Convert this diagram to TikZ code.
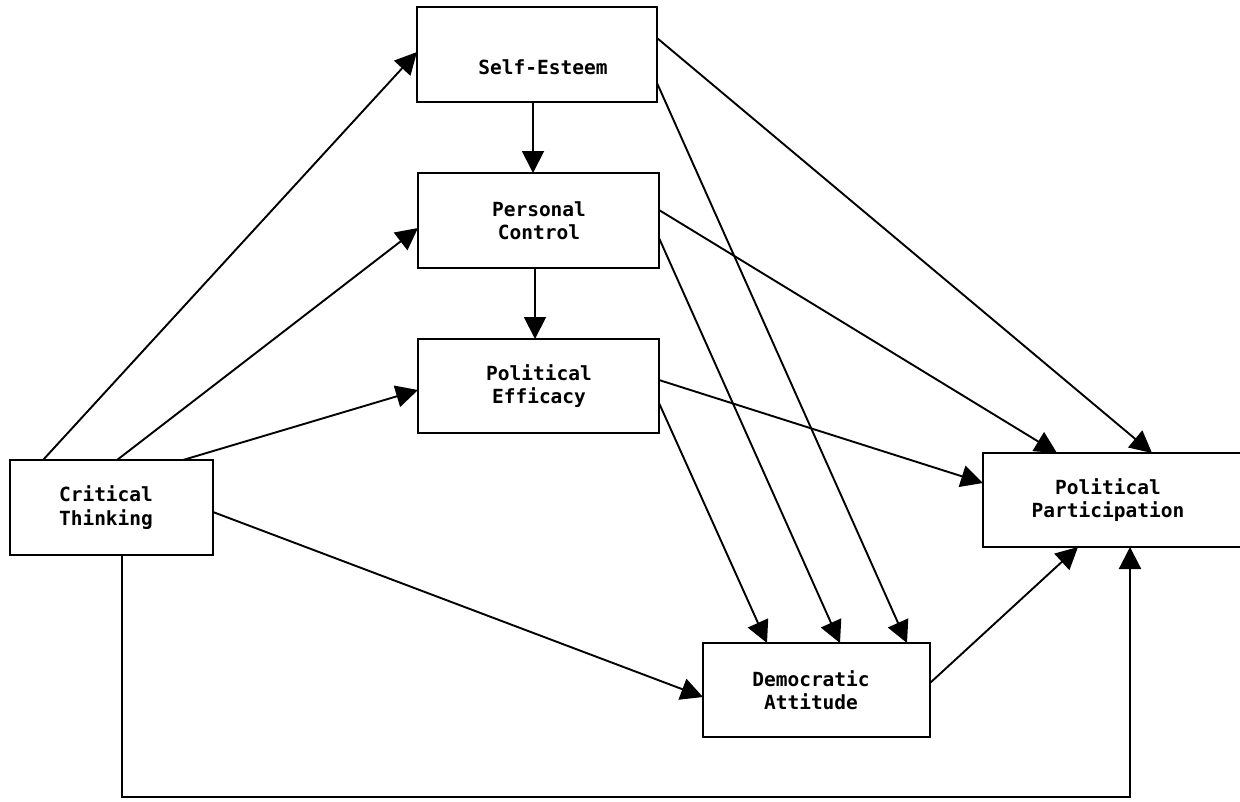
\documentclass[tikz,border=0pt]{standalone}
\usepackage{fontspec}
\newfontfamily\boxfont{DejaVu Sans Mono}
\usetikzlibrary{arrows.meta}
\begin{document}
\begin{tikzpicture}[x=1pt,y=-1pt,
  box/.style={draw, line width=2.2pt, inner sep=0pt, outer sep=0pt},
  lbl/.style={inner sep=0pt, align=center, font={\boxfont\bfseries\fontsize{19.5pt}{23.5pt}\selectfont}},
  link/.style={line width=1.9pt, -{Triangle[length=22pt,width=22pt]}},
  plain/.style={line width=2pt}
]
\clip (0,0) rectangle (1240,801);
\fill[white] (0,0) rectangle (1240,801);
% boxes
\node[box, minimum width=240pt, minimum height=95pt] (SE) at (537,54.5) {};
\node[box, minimum width=241pt, minimum height=95pt] (PC) at (538.5,220.5) {};
\node[box, minimum width=241pt, minimum height=94pt] (PE) at (538.5,386) {};
\node[box, minimum width=203pt, minimum height=95pt] (CT) at (111.5,507.5) {};
\node[box, minimum width=267pt, minimum height=94pt] (PP) at (1116.5,500) {};
\node[box, minimum width=227pt, minimum height=94pt] (DA) at (816.5,690) {};
% labels
\node[lbl] (SEt) at (543,67) {Self-Esteem};
\node[lbl] (PCt) at (539,220.5) {Personal\\Control};
\node[lbl] (PEt) at (539,386) {Political\\Efficacy};
\node[lbl] (CTt) at (106,507.5) {Critical\\Thinking};
\node[lbl] (PPt) at (1108,500) {Political\\Participation};
\node[lbl] (DAt) at (811,690) {Democratic\\Attitude};
% connectors from Critical Thinking
\draw[link] ([xshift=33pt]CT.north west) -- ([yshift=-45pt]SE.north west);
\draw[link] ([xshift=107pt]CT.north west) -- ([yshift=-55pt]PC.north west);
\draw[link] ([xshift=173pt]CT.north west) -- ([yshift=-51pt]PE.north west);
\draw[link] ([yshift=-52pt]CT.north east) -- ([yshift=-54pt]DA.north west);
\coordinate (low) at (0,797);
\coordinate (ctb) at ([xshift=112pt]CT.south west);
\coordinate (ppb) at ([xshift=147pt]PP.south west);
\draw[link, line width=2.2pt] (ctb) |- (ppb |- low) -- (ppb);
% vertical chain
\coordinate (sepc) at ([xshift=116pt]SE.south west);
\draw[link] (sepc) -- (sepc |- PC.north);
\coordinate (pcpe) at ([xshift=117pt]PC.south west);
\draw[link] (pcpe) -- (pcpe |- PE.north);
% to Political Participation and Democratic Attitude
\draw[link] ([yshift=-31pt]SE.north east) -- ([xshift=169pt]PP.north west);
\draw[link] ([yshift=-76pt]SE.north east) -- ([xshift=204pt]DA.north west);
\draw[link] ([yshift=-37pt]PC.north east) -- ([xshift=74pt]PP.north west);
\draw[link] ([yshift=-65pt]PC.north east) -- ([xshift=137pt]DA.north west);
\draw[link] ([yshift=-41pt]PE.north east) -- ([yshift=-30pt]PP.north west);
\draw[link] ([yshift=-64pt]PE.north east) -- ([xshift=64pt]DA.north west);
\draw[link] ([yshift=-40pt]DA.north east) -- ([xshift=95pt]PP.south west);
\end{tikzpicture}
\end{document}
